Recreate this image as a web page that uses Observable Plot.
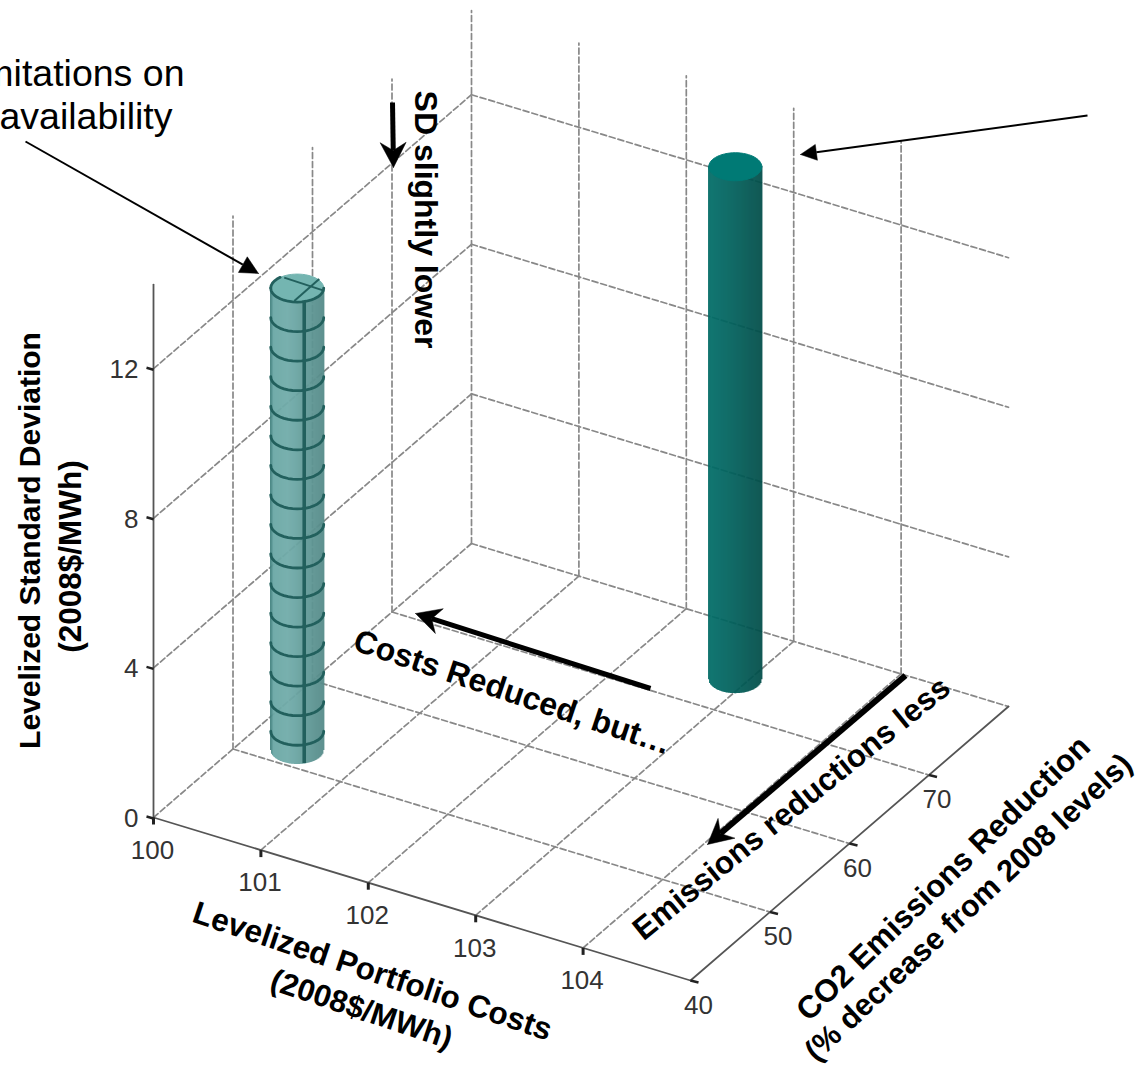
<!DOCTYPE html>
<html>
<head>
<meta charset="utf-8">
<script src="https://cdn.jsdelivr.net/npm/d3@7"></script>
<script src="https://cdn.jsdelivr.net/npm/@observablehq/plot@0.6"></script>
<style>
  html, body { margin: 0; padding: 0; background: #fff; }
  svg { display: block; }
</style>
</head>
<body>
<div id="chart"></div>
<script>
// Portfolio results: levelized cost, CO2 reduction, levelized standard deviation
const portfolioNames = ["limited availability", "base portfolio"];
const portfolioCost = [100.45, 102.9];
const emissionsReduction = [52, 74];
const levelizedSD = [12.35, 13.7];

// Axis ticks
const costTicks = [100, 101, 102, 103, 104];
const emissionTicks = [40, 50, 60, 70];
const sdTicks = [0, 4, 8, 12];

// Axis extents of the box
const costRange = [100, 105];
const emissionRange = [40, 80];
const sdTop = 14.25;

// Oblique projection from (cost, emissions, SD) to the drawing plane
function project(cost, emission, sd) {
  const c = cost - costRange[0], e = emission - emissionRange[0];
  return {
    x: 153 + 107.4 * c + 7.95 * e,
    y: 817 + 32.6 * c - 6.85 * e - 37.4 * sd
  };
}
const segment = (id, a, b) => [{id, ...project(...a)}, {id, ...project(...b)}];

// Floor and wall grid lines
const [c0, c1] = costRange, [e0, e1] = emissionRange;
const grid = [];
costTicks.slice(1).forEach(c => grid.push(...segment(`fc${c}`, [c, e0, 0], [c, e1, 0])));
emissionTicks.slice(1).forEach(e => grid.push(...segment(`fe${e}`, [c0, e, 0], [c1, e, 0])));
grid.push(...segment("fl", [c0, e0, 0], [c0, e1, 0]));
grid.push(...segment("bk", [c0, e1, 0], [c1, e1, 0]));
sdTicks.slice(1).forEach(s => {
  grid.push(...segment(`wl${s}`, [c0, e0, s], [c0, e1, s]));
  grid.push(...segment(`wr${s}`, [c0, e1, s], [c1, e1, s]));
});
[50, 60, 70, 80].forEach(e => grid.push(...segment(`vl${e}`, [c0, e, 0], [c0, e, sdTop])));
costTicks.slice(1).forEach(c => grid.push(...segment(`vr${c}`, [c, e1, 0], [c, e1, sdTop])));

// Axis lines
const axes = [
  ...segment("cost", [c0, e0, 0], [c1, e0, 0]),
  ...segment("emission", [c1, e0, 0], [c1, e1, 0]),
  ...segment("sd", [c0, e0, 0], [c0, e0, sdTop])
];

// Cylinders
const rx = 26.5, ry = 14;
const looks = [
  {edge: "#3f807d", left: "#6ba8a5", mid: "#71acaa", right: "#568b89", cap: "#74b5b1", mesh: "#22605d"},
  {edge: "#006a65", left: "#006c67", mid: "#00645f", right: "#004d49", cap: "#007a75", mesh: null}
];
const strips = [], caps = [], rings = [], spines = [], capLines = [];
portfolioCost.forEach((cost, i) => {
  const base = project(cost, emissionsReduction[i], 0);
  const top = project(cost, emissionsReduction[i], levelizedSD[i]);
  const look = looks[i];
  const shade = d3.scaleLinear()
    .domain([-rx, -rx + 3, -rx * 0.35, rx])
    .range([look.edge, look.left, look.mid, look.right]);
  d3.range(-rx, rx + 0.5, 1).forEach(dx => {
    const h = ry * Math.sqrt(Math.max(0, 1 - (dx / rx) ** 2));
    strips.push({x: base.x + dx, y1: top.y + h - 1, y2: base.y + h, color: shade(dx)});
  });
  d3.range(0, 361, 6).forEach(a => {
    const t = a * Math.PI / 180;
    caps.push({id: i, x: top.x + rx * Math.cos(t), y: top.y + ry * Math.sin(t), color: look.cap});
  });
  if (look.mesh) {
    // Mesh rings step down the shaded portfolio's surface
    const step = 0.79;
    for (let s = levelizedSD[i] - step, r = 0; s > 0.3; s -= step, r++) {
      const ringCenter = {x: top.x, y: project(cost, emissionsReduction[i], s).y};
      d3.range(0, 181, 10).forEach(a => {
        const t = a * Math.PI / 180;
        rings.push({id: `${i}-${r}`, x: ringCenter.x + rx * Math.cos(t), y: ringCenter.y + ry * Math.sin(t)});
      });
    }
    d3.range(0, 181, 10).forEach(a => {
      const t = a * Math.PI / 180;
      rings.push({id: `${i}-rim`, x: top.x + rx * Math.cos(t), y: top.y + ry * Math.sin(t)});
    });
    d3.range(180, 235, 10).forEach(a => {
      const t = a * Math.PI / 180;
      rings.push({id: `${i}-rimback`, x: top.x + rx * Math.cos(t), y: top.y + ry * Math.sin(t)});
    });
    const sx = top.x + 7;
    spines.push({x1: sx, x2: sx, y1: top.y + ry - 1, y2: base.y + ry - 1});
    capLines.push({x1: top.x - 13, y1: top.y - 10.5, x2: top.x + 25, y2: top.y + 2});
    capLines.push({x1: top.x - 3, y1: top.y + 13, x2: top.x + 22, y2: top.y - 9});
  }
});

// Annotation arrows, tail to tip with filled heads
const arrowSpecs = [
  {id: "a", from: [25, 141], to: [258, 273], w: 2, len: 18, half: 9, notch: 18},
  {id: "b", from: [392, 102], to: [393, 167], w: 5, len: 25, half: 13, notch: 17},
  {id: "c", from: [1087, 115], to: [800, 154], w: 2, len: 16, half: 8, notch: 16},
  {id: "d", from: [650, 688], to: [415, 613], w: 5, len: 25, half: 13, notch: 17},
  {id: "e", from: [905, 675], to: [707, 844], w: 6, len: 25, half: 13, notch: 17}
];
const shafts = [], heads = [];
arrowSpecs.forEach(({id, from, to, w, len, half, notch}) => {
  const L = Math.hypot(to[0] - from[0], to[1] - from[1]);
  const ux = (to[0] - from[0]) / L, uy = (to[1] - from[1]) / L;
  shafts.push({x1: from[0], y1: from[1], x2: to[0] - ux * notch, y2: to[1] - uy * notch, w});
  [[0, 0], [-len, half], [-notch, 0], [-len, -half], [0, 0]].forEach(([a, b]) => {
    heads.push({id, x: to[0] + ux * a - uy * b, y: to[1] + uy * a + ux * b});
  });
});

// Tick labels
const tickText = [
  ...costTicks.map(c => { const p = project(c, e0, 0); return {text: String(c), x: p.x - 1, y: p.y + 33}; }),
  ...emissionTicks.map(e => { const p = project(c1, e, 0); return {text: String(e), x: p.x + 8, y: p.y + 25}; })
];
const sdTickText = sdTicks.map(s => { const p = project(c0, e0, s); return {text: String(s), x: p.x - 15, y: p.y + 1}; });

// Axis titles and callouts
const labels = [
  {text: "Levelized Standard Deviation", x: 30, y: 540, rotate: -90, size: 30},
  {text: "(2008$/MWh)", x: 70, y: 556, rotate: -90, size: 31.5},
  {text: "Levelized Portfolio Costs", x: 372, y: 971, rotate: 18.5, size: 31.5},
  {text: "(2008$/MWh)", x: 361, y: 1009, rotate: 18.5, size: 31},
  {text: "CO2 Emissions Reduction", x: 943, y: 878, rotate: -44, size: 31.5},
  {text: "(% decrease from 2008 levels)", x: 968, y: 907, rotate: -43, size: 30.5},
  {text: "Emissions reductions less", x: 791, y: 808, rotate: -39, size: 31.5},
  {text: "Costs Reduced, but…", x: 512, y: 692, rotate: 18.5, size: 32},
  {text: "SD slightly lower", x: 425, y: 219, rotate: 90, size: 32}
];
const notes = [
  {text: "Limitations on", x: 184, y: 73},
  {text: "availability", x: 172, y: 116}
];

const figure = Plot.plot({
  width: 1140,
  height: 1070,
  margin: 0,
  style: {background: "#fff", fontFamily: "'Liberation Sans', Arial, sans-serif"},
  x: {axis: null, domain: [0, 1140], range: [0, 1140]},
  y: {axis: null, domain: [0, 1070], range: [0, 1070]},
  color: {type: "identity"},
  marks: [
    Plot.line(grid, {x: "x", y: "y", z: "id", stroke: "#888", strokeWidth: 1.7, strokeDasharray: "6 3"}),
    Plot.line(axes, {x: "x", y: "y", z: "id", stroke: "#555", strokeWidth: 1.8}),
    // Axis ticks
    Plot.link(costTicks, {x1: c => project(c, e0, 0).x, x2: c => project(c, e0, 0).x, y1: c => project(c, e0, 0).y, y2: c => project(c, e0, 0).y + 7, stroke: "#222", strokeWidth: 3}),
    Plot.link(emissionTicks, {x1: e => project(c1, e, 0).x, x2: e => project(c1, e, 0).x + 8, y1: e => project(c1, e, 0).y, y2: e => project(c1, e, 0).y + 2, stroke: "#222", strokeWidth: 2.5}),
    Plot.link(sdTicks, {x1: s => project(c0, e0, s).x, x2: s => project(c0, e0, s).x - 7, y1: s => project(c0, e0, s).y + 1, y2: s => project(c0, e0, s).y - 1, stroke: "#222", strokeWidth: 2.5}),
    // Cylinders
    Plot.link(strips, {x1: "x", x2: "x", y1: "y1", y2: "y2", stroke: "color", strokeWidth: 1.3}),
    Plot.line(caps, {x: "x", y: "y", z: "id", fill: "color", stroke: "color", strokeWidth: 1}),
    Plot.line(rings, {x: "x", y: "y", z: "id", stroke: looks[0].mesh, strokeWidth: 2.8}),
    Plot.link(spines, {x1: "x1", x2: "x2", y1: "y1", y2: "y2", stroke: looks[0].mesh, strokeWidth: 3.6}),
    Plot.link(capLines, {x1: "x1", x2: "x2", y1: "y1", y2: "y2", stroke: looks[0].mesh, strokeWidth: 2}),
    // Tick labels
    Plot.text(tickText, {x: "x", y: "y", text: "text", fontSize: 26, fill: "#333"}),
    Plot.text(sdTickText, {x: "x", y: "y", text: "text", fontSize: 26, fill: "#333", textAnchor: "end"}),
    // Callout arrows
    Plot.link(shafts, {x1: "x1", x2: "x2", y1: "y1", y2: "y2", stroke: "#000", strokeWidth: "w"}),
    Plot.line(heads, {x: "x", y: "y", z: "id", fill: "#000", stroke: "#000", strokeWidth: 0.5}),
    // Titles
    Plot.text(labels, {x: "x", y: "y", text: "text", rotate: "rotate", fontSize: "size", fontWeight: "bold", fill: "#000"}),
    Plot.text(notes, {x: "x", y: "y", text: "text", fontSize: 37.5, textAnchor: "end", fill: "#000"})
  ]
});
document.getElementById("chart").append(figure);
</script>
</body>
</html>
